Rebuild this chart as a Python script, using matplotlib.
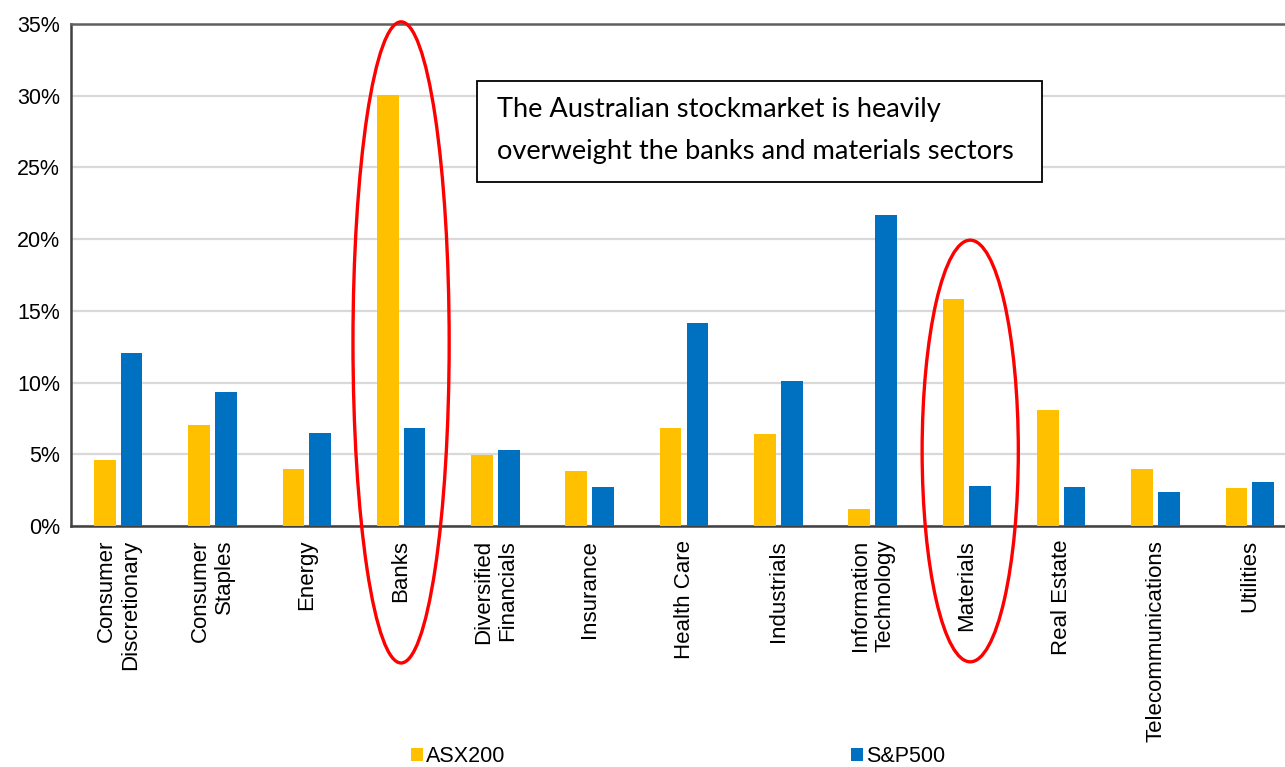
import numpy as np
import matplotlib
matplotlib.use("Agg")
import matplotlib.pyplot as plt
from matplotlib.patches import Ellipse, Rectangle
from matplotlib.ticker import FuncFormatter

# sector weights (%)
sectors = ["Consumer\nDiscretionary", "Consumer\nStaples", "Energy", "Banks",
           "Diversified\nFinancials", "Insurance", "Health Care", "Industrials",
           "Information\nTechnology", "Materials", "Real Estate",
           "Telecommunications", "Utilities"]
asx200 = [4.6, 7.05, 3.95, 30.05, 4.95, 3.85, 6.85, 6.4, 1.2, 15.8, 8.1, 4.0, 2.65]
sp500 = [12.05, 9.35, 6.5, 6.8, 5.3, 2.7, 14.15, 10.1, 21.7, 2.8, 2.75, 2.4, 3.05]

plt.rcParams["font.family"] = ["Liberation Sans", "DejaVu Sans"]

fig = plt.figure(figsize=(12.85, 7.67), dpi=100)
ax = fig.add_axes([71 / 1285, 1 - 526 / 767, 1226 / 1285, 502 / 767])

x = np.arange(len(sectors))
w = 0.23
off = 0.142
ax.bar(x - off, asx200, w, color="#FFC000", label="ASX200", zorder=3)
ax.bar(x + off, sp500, w, color="#0070C0", label="S&P500", zorder=3)

ax.set_xlim(-0.5, len(sectors) - 0.5)
ax.set_ylim(0, 35)
ax.set_yticks(np.arange(0, 36, 5))
ax.yaxis.set_major_formatter(FuncFormatter(lambda v, p: f"{v:.0f}%"))
ax.grid(axis="y", color="#D9D9D9", lw=1.6, zorder=0)
ax.set_axisbelow(True)

ax.set_xticks(x)
ax.set_xticklabels(sectors, rotation=90, ha="center", va="top",
                   multialignment="right", fontsize=16)
ax.tick_params(axis="x", length=0, pad=10)
ax.tick_params(axis="y", length=0, pad=8, labelsize=15.5)

for s in ["left", "bottom"]:
    ax.spines[s].set_color("#404040")
    ax.spines[s].set_linewidth(1.8)
ax.spines["top"].set_color("#606060")
ax.spines["top"].set_linewidth(1.8)
ax.spines["right"].set_visible(False)

# highlight ellipses
ax.add_patch(Ellipse((3.0, 12.8), 1.02, 44.7, fill=False, ec="#FF0000",
                     lw=2.4, clip_on=False, zorder=5))
ax.add_patch(Ellipse((9.035, 5.23), 1.02, 29.4, fill=False, ec="#FF0000",
                     lw=2.4, clip_on=False, zorder=5))

# annotation box
fig.patches.append(Rectangle((477 / 1285, 1 - 182 / 767), 565 / 1285, 101 / 767,
                             transform=fig.transFigure, fc="white", ec="black",
                             lw=1.3, zorder=6))
fig.text(497 / 1285, 1 - 110 / 767, "The Australian stockmarket is heavily",
         family="Lato", fontsize=19.6, va="center", ha="left", zorder=7)
fig.text(497 / 1285, 1 - 151 / 767, "overweight the banks and materials sectors",
         family="Lato", fontsize=19.6, va="center", ha="left", zorder=7)

fig.legend(loc="center left", bbox_to_anchor=(411 / 1285, 1 - 757 / 767),
           ncol=2, frameon=False, fontsize=15.5, handlelength=0.55,
           handleheight=0.55, handletextpad=0.15, columnspacing=16.05,
           borderpad=0, borderaxespad=0)

fig.savefig("out.png", dpi=100)
